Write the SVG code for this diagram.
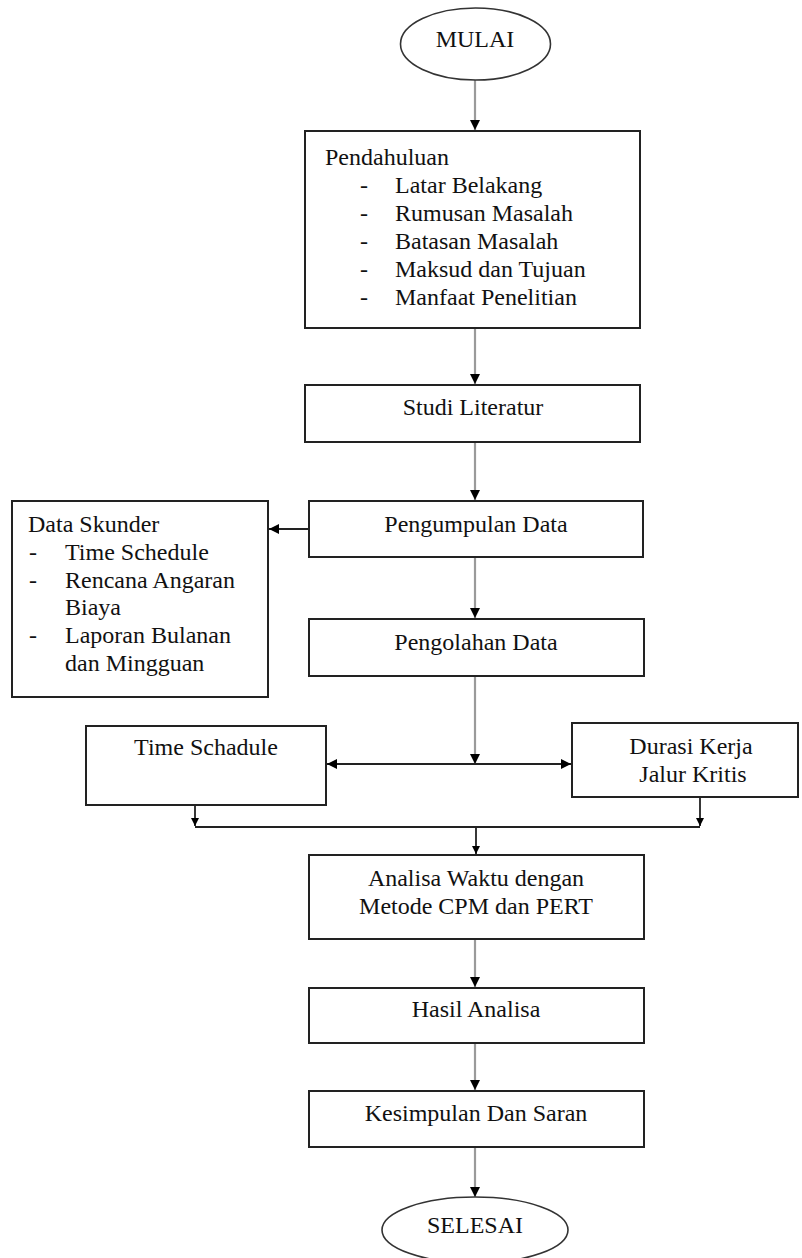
<svg xmlns="http://www.w3.org/2000/svg" width="802" height="1258" viewBox="0 0 802 1258" font-family="'Liberation Serif', 'DejaVu Serif', serif">
<style>
.box{fill:#fff;stroke:#222;stroke-width:2}
.oval{fill:#fff;stroke:#333;stroke-width:1.6}
text{font-family:'Liberation Serif','DejaVu Serif',serif;font-size:24px;fill:#111}
.c{text-anchor:middle}
.flow{fill:none;stroke:#9a9a9a;stroke-width:2.2}
.br{fill:none;stroke:#222;stroke-width:1.8}
</style>
<defs>
<marker id="ah" viewBox="0 0 10 10" refX="10" refY="5" markerWidth="10" markerHeight="10" markerUnits="userSpaceOnUse" orient="auto">
<path d="M0,0 L10,5 L0,10 z" fill="#000"/>
</marker>
<marker id="ahs" viewBox="0 0 10 10" refX="10" refY="5" markerWidth="8" markerHeight="8" markerUnits="userSpaceOnUse" orient="auto">
<path d="M0,0 L10,5 L0,10 z" fill="#000"/>
</marker>
</defs>

<g id="connectors">
<line class="flow" x1="475" y1="80" x2="475" y2="130" marker-end="url(#ah)"/>
<line class="flow" x1="475" y1="328" x2="475" y2="384" marker-end="url(#ah)"/>
<line class="flow" x1="475" y1="442" x2="475" y2="500" marker-end="url(#ah)"/>
<line class="br" x1="309" y1="529" x2="269" y2="529" marker-end="url(#ah)"/>
<line class="flow" x1="475" y1="557" x2="475" y2="618" marker-end="url(#ah)"/>
<line class="flow" x1="475" y1="676" x2="475" y2="764" marker-end="url(#ah)"/>
<line class="br" x1="475" y1="764" x2="327" y2="764" marker-end="url(#ah)"/>
<line class="br" x1="475" y1="764" x2="571" y2="764" marker-end="url(#ah)"/>
<line class="br" x1="195" y1="805" x2="195" y2="826" marker-end="url(#ahs)"/>
<line class="br" x1="700" y1="797" x2="700" y2="826" marker-end="url(#ahs)"/>
<polyline class="br" points="195,827 700,827"/>
<line class="br" x1="476" y1="827" x2="476" y2="854" marker-end="url(#ahs)"/>
<line class="flow" x1="475" y1="939" x2="475" y2="987" marker-end="url(#ah)"/>
<line class="flow" x1="475" y1="1043" x2="475" y2="1090" marker-end="url(#ah)"/>
<line class="flow" x1="475" y1="1147" x2="475" y2="1197" marker-end="url(#ah)"/>
</g>

<g id="mulai">
<ellipse class="oval" cx="475.5" cy="44" rx="75" ry="36"/>
<text class="c" x="475" y="47">MULAI</text>
</g>

<g id="pendahuluan">
<rect class="box" x="305" y="131" width="335" height="197"/>
<text x="325" y="165">Pendahuluan</text>
<text x="360" y="193">-</text><text x="395" y="193">Latar Belakang</text>
<text x="360" y="221">-</text><text x="395" y="221">Rumusan Masalah</text>
<text x="360" y="249">-</text><text x="395" y="249">Batasan Masalah</text>
<text x="360" y="277">-</text><text x="395" y="277">Maksud dan Tujuan</text>
<text x="360" y="305">-</text><text x="395" y="305">Manfaat Penelitian</text>
</g>

<g id="studi">
<rect class="box" x="305" y="385" width="335" height="57"/>
<text class="c" x="473" y="415">Studi Literatur</text>
</g>

<g id="pengumpulan">
<rect class="box" x="309" y="501" width="334" height="56"/>
<text class="c" x="476" y="532">Pengumpulan Data</text>
</g>

<g id="dataskunder">
<rect class="box" x="12" y="501" width="256" height="196"/>
<text x="28" y="532">Data Skunder</text>
<text x="29" y="560">-</text><text x="65" y="560">Time Schedule</text>
<text x="29" y="588">-</text><text x="65" y="588">Rencana Angaran</text>
<text x="65" y="615">Biaya</text>
<text x="29" y="643">-</text><text x="65" y="643">Laporan Bulanan</text>
<text x="65" y="671">dan Mingguan</text>
</g>

<g id="pengolahan">
<rect class="box" x="309" y="619" width="335" height="57"/>
<text class="c" x="476" y="650">Pengolahan Data</text>
</g>

<g id="timeschadule">
<rect class="box" x="86" y="726" width="240" height="79"/>
<text class="c" x="206" y="755">Time Schadule</text>
</g>

<g id="durasi">
<rect class="box" x="572" y="723" width="226" height="74"/>
<text class="c" x="691" y="754">Durasi Kerja</text>
<text class="c" x="693" y="782">Jalur Kritis</text>
</g>

<g id="analisa">
<rect class="box" x="309" y="855" width="335" height="84"/>
<text class="c" x="476" y="886">Analisa Waktu dengan</text>
<text class="c" x="476" y="914">Metode CPM dan PERT</text>
</g>

<g id="hasil">
<rect class="box" x="309" y="988" width="335" height="55"/>
<text class="c" x="476" y="1017">Hasil Analisa</text>
</g>

<g id="kesimpulan">
<rect class="box" x="309" y="1091" width="335" height="56"/>
<text class="c" x="476" y="1121">Kesimpulan Dan Saran</text>
</g>

<g id="selesai">
<ellipse class="oval" cx="475" cy="1230" rx="93" ry="33"/>
<text class="c" x="475" y="1233">SELESAI</text>
</g>
</svg>
